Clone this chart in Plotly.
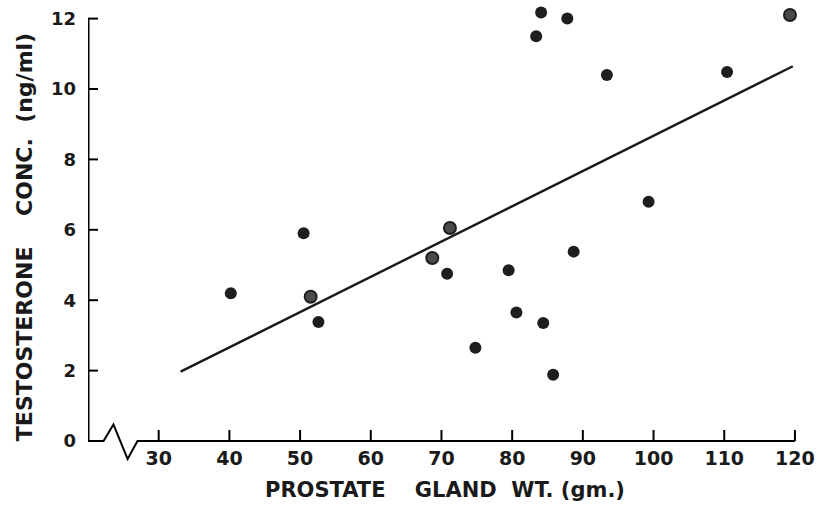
import plotly.graph_objects as go

# ---- data ----
weight_solid = [40.2, 50.5, 52.6, 70.8, 74.8, 79.5, 80.6, 84.4, 85.8, 88.7,
                99.3, 83.4, 84.1, 87.8, 93.4, 110.4]
testo_solid = [4.2, 5.9, 3.38, 4.75, 2.65, 4.85, 3.65, 3.35, 1.88, 5.38,
               6.8, 11.5, 12.17, 12.0, 10.4, 10.48]
weight_ring = [51.5, 68.7, 71.2, 119.3]
testo_ring = [4.1, 5.2, 6.05, 12.1]

fit_slope = 0.1002
fit_intercept = -1.347
fit_x = [33.1, 119.7]

x_ticks = [30, 40, 50, 60, 70, 80, 90, 100, 110, 120]
y_ticks = [0, 2, 4, 6, 8, 10, 12]

# axis line with break (decoration)
xaxis_line_x = [20, 22.2, 23.6, 25.6, 27.0, 120]
xaxis_line_y = [0, 0, 0.47, -0.51, 0, 0]
yaxis_line_x = [20, 20]
yaxis_line_y = [0, 12]

x_title = "PROSTATE    GLAND  WT. (gm.)"
y_title = "TESTOSTERONE    CONC.  (ng/ml)"

INK = "black"
TXT = "#1a1a1a"
FONT = "DejaVu Sans"

fig = go.Figure()

fit_y = [fit_slope * v + fit_intercept for v in fit_x]
fig.add_trace(go.Scatter(x=fit_x, y=fit_y, mode="lines",
                         line=dict(color=TXT, width=2.4)))
fig.add_trace(go.Scatter(x=weight_solid, y=testo_solid, mode="markers",
                         marker=dict(size=12, color="#1e1e1e")))
fig.add_trace(go.Scatter(x=weight_ring, y=testo_ring, mode="markers",
                         marker=dict(size=12, color="#4a4a4a",
                                     line=dict(width=2, color="#1e1e1e"))))

# axis lines as shapes (drawn above everything)
xpath = "M " + " L ".join(f"{a},{b}" for a, b in zip(xaxis_line_x, xaxis_line_y))
fig.add_shape(type="path", path=xpath, xref="x", yref="y", layer="above",
              line=dict(color=INK, width=2))
fig.add_shape(type="line", xref="x", yref="y", layer="above",
              x0=yaxis_line_x[0], x1=yaxis_line_x[1],
              y0=yaxis_line_y[0], y1=yaxis_line_y[1],
              line=dict(color=INK, width=3))
# tick marks (inside): x ticks point up, y ticks point right
for t in x_ticks:
    fig.add_shape(type="line", xref="x", yref="y", layer="above",
                  ysizemode="pixel", yanchor=0, y0=0, y1=11, x0=t, x1=t,
                  line=dict(color=INK, width=2))
for t in y_ticks[1:]:
    fig.add_shape(type="line", xref="x", yref="y", layer="above",
                  xsizemode="pixel", xanchor=20, x0=0, x1=10, y0=t, y1=t,
                  line=dict(color=INK, width=2))

y_lo, y_hi = -0.795, 12.386

fig.update_layout(
    width=820, height=509,
    margin=dict(l=88, r=18, t=5, b=40),
    paper_bgcolor="white", plot_bgcolor="rgba(0,0,0,0)",
    showlegend=False,
    xaxis=dict(range=[20, 121], showgrid=False, zeroline=False, showline=False,
               tickmode="array", tickvals=x_ticks, ticks="",
               anchor="free", position=(0 - y_lo) / (y_hi - y_lo),
               tickfont=dict(family=FONT, size=19, color=TXT, weight="bold"),
               ticklabelstandoff=4, automargin=False,
               title=dict(text=x_title, standoff=14,
                          font=dict(family=FONT, size=21, color=TXT, weight="bold"))),
    yaxis=dict(range=[y_lo, y_hi], showgrid=False, zeroline=False, showline=False,
               tickmode="array", tickvals=y_ticks, ticks="",
               tickfont=dict(family=FONT, size=18, color=TXT, weight="bold"),
               ticklabelstandoff=11, automargin=False,
               title=dict(text=y_title, standoff=12,
                          font=dict(family=FONT, size=22, color=TXT, weight="bold"))),
)

fig.write_html("out.html")
